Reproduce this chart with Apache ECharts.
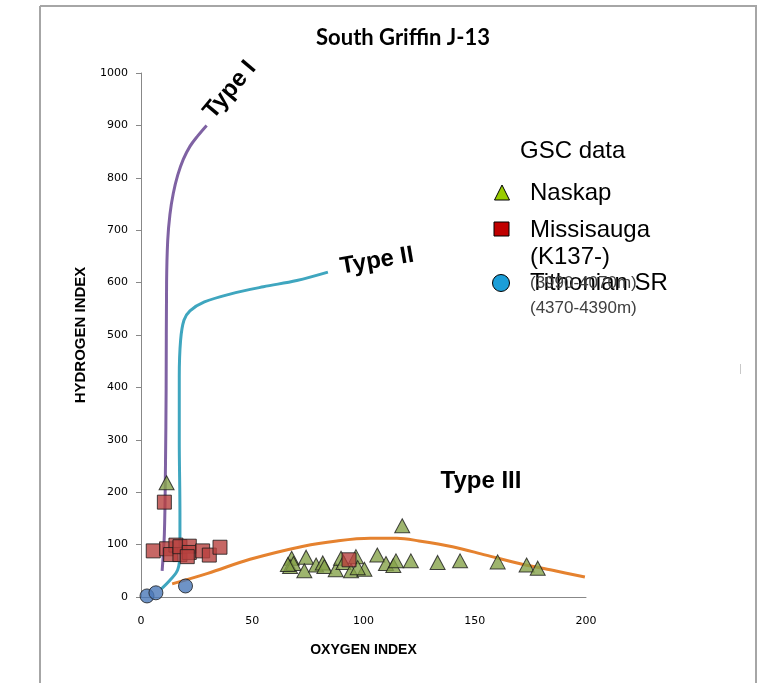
<!DOCTYPE html>
<html>
<head>
<meta charset="utf-8">
<script src="https://cdn.jsdelivr.net/npm/echarts@6/dist/echarts.min.js"></script>
<style>
  html, body { margin: 0; padding: 0; background: #fff; }
  #chart { width: 782px; height: 683px; }
</style>
</head>
<body>
<div id="chart"></div>
<script>
// Axis ticks
const xTicks = [0, 50, 100, 150, 200];
const yTicks = [0, 100, 200, 300, 400, 500, 600, 700, 800, 900, 1000];

// Kerogen type reference curves [oxygen index, hydrogen index]
const typeI = [[9.5, 50], [10.5, 120], [11, 250], [11.3, 400], [11.5, 600], [12, 680], [13, 730],
  [14.5, 770], [16.5, 805], [19, 835], [22, 860], [25.5, 880], [29.5, 900]];
const typeII = [[9, 15], [13, 32], [16.5, 52], [17.5, 85], [17.5, 160], [17.2, 300], [17.2, 420],
  [17.8, 490], [19.3, 528], [22, 546], [28.5, 563], [40, 578], [55, 592], [70, 604], [84, 620]];
const typeIII = [[14, 25], [30, 45], [49, 72], [73, 97], [88, 107], [103, 112], [115, 112],
  [125, 107], [140, 96], [155, 80], [170, 64], [185, 51], [199.5, 38]];

// GSC samples [oxygen index, hydrogen index]
const naskap = [[11.5, 218], [117.4, 136], [67.7, 74], [67, 58], [68.5, 64], [66, 62], [74.2, 76],
  [73.4, 50], [78.7, 61], [81.7, 65], [82.4, 58], [87.5, 52], [89.9, 74], [91, 66], [96.6, 77],
  [94.4, 50], [100.4, 53], [97.4, 56], [106.2, 80], [110.1, 64], [113.4, 60], [114.6, 69],
  [121.3, 69], [133.3, 66], [143.4, 69], [160.3, 67], [173.3, 61], [178.3, 55]];
const missisauga = [[10.5, 181], [5.5, 88], [11.5, 92], [15.7, 99], [13.3, 81], [17.5, 81],
  [17.5, 96], [21.7, 97], [21.7, 85], [20.8, 77], [27.7, 88], [30.7, 80], [35.5, 95], [93.5, 71]];
const tithonian = [[2.7, 2], [6.7, 8], [20, 21]];

// Legend entries
const legendTitle = 'GSC data';
const legendNames = ['Naskap', 'Missisauga', '(K137-)', 'Tithonian SR', '(3990-4070m)', '(4370-4390m)'];

const chart = echarts.init(document.getElementById('chart'), null, { renderer: 'canvas' });

const curve = (name, data, color) => ({
  name, type: 'line', data, smooth: 0.35, showSymbol: false, z: 2,
  lineStyle: { color, width: 3 }, silent: true
});
const markerStyle = (color) => ({ color, borderColor: '#1a1a1a', borderWidth: 1 });

const frameColor = '#a6a6a6';
const labelFont = 'bold 24px "Liberation Sans", Arial, sans-serif';
const legendFont = '24px "Liberation Sans", Arial, sans-serif';
const subFont = '17px "Liberation Sans", Arial, sans-serif';

chart.setOption({
  animation: false,
  backgroundColor: '#ffffff',
  title: {
    text: 'South Griffin J-13', left: 398, top: 22, textAlign: 'center',
    textStyle: { fontFamily: 'Lato, "Open Sans", sans-serif', fontWeight: 'bold', fontSize: 22, color: '#000' }
  },
  grid: { left: 141, top: 73, right: 196, bottom: 86 },
  xAxis: {
    type: 'value', min: xTicks[0], max: xTicks[xTicks.length - 1], interval: 50,
    name: 'OXYGEN INDEX', nameLocation: 'middle', nameGap: 46,
    nameTextStyle: { fontFamily: '"Liberation Sans", Arial', fontWeight: 'bold', fontSize: 14, color: '#000' },
    axisLine: { lineStyle: { color: '#888888', width: 1 } },
    axisTick: { show: false },
    axisLabel: { fontFamily: '"DejaVu Sans", Verdana', fontSize: 11, color: '#000', margin: 19,
      formatter: (v) => String(v) },
    splitLine: { show: false }
  },
  yAxis: {
    type: 'value', min: yTicks[0], max: yTicks[yTicks.length - 1], interval: 100,
    name: 'HYDROGEN INDEX', nameLocation: 'middle', nameGap: 53, nameRotate: 90,
    nameTextStyle: { fontFamily: '"Liberation Sans", Arial', fontWeight: 'bold', fontSize: 15, color: '#000' },
    axisLine: { show: true, lineStyle: { color: '#888888', width: 1 } },
    axisTick: { show: true, length: 5, lineStyle: { color: '#888888' } },
    axisLabel: { fontFamily: '"DejaVu Sans", Verdana', fontSize: 11, color: '#000', margin: 13,
      formatter: (v) => String(v) },
    splitLine: { show: false }
  },
  series: [
    curve('Type I', typeI, '#7f62a3'),
    curve('Type II', typeII, '#3fa6bf'),
    curve('Type III', typeIII, '#e5822f'),
    { name: 'Naskap', type: 'scatter', data: naskap, symbol: 'triangle', symbolSize: [15, 14], z: 5,
      itemStyle: markerStyle('#86a24a') },
    { name: 'Missisauga', type: 'scatter', data: missisauga, symbol: 'rect', symbolSize: 14, z: 6,
      itemStyle: markerStyle('#b8413e') },
    { name: 'Tithonian SR', type: 'scatter', data: tithonian, symbol: 'circle', symbolSize: 14, z: 6,
      itemStyle: markerStyle('#4a78b8') }
  ],
  graphic: [
    // outer frame
    { type: 'line', shape: { x1: 40, y1: 6, x2: 40, y2: 683 }, style: { stroke: frameColor, lineWidth: 2 } },
    { type: 'line', shape: { x1: 40, y1: 6, x2: 757, y2: 6 }, style: { stroke: frameColor, lineWidth: 2 } },
    { type: 'line', shape: { x1: 756, y1: 6, x2: 756, y2: 683 }, style: { stroke: frameColor, lineWidth: 2 } },
    { type: 'line', shape: { x1: 740.5, y1: 364, x2: 740.5, y2: 374 }, style: { stroke: '#c8c8c8', lineWidth: 1 } },
    // curve labels
    { type: 'text', x: 230, y: 90, rotation: 0.87, z: 10,
      style: { text: 'Type I', font: labelFont, fill: '#000', textAlign: 'center', textVerticalAlign: 'middle' } },
    { type: 'text', x: 377, y: 261, rotation: 0.17, z: 10,
      style: { text: 'Type II', font: labelFont, fill: '#000', textAlign: 'center', textVerticalAlign: 'middle' } },
    { type: 'text', x: 481, y: 481, z: 10,
      style: { text: 'Type III', font: labelFont, fill: '#000', textAlign: 'center', textVerticalAlign: 'middle' } },
    // legend
    { type: 'text', x: 520, y: 151, z: 10,
      style: { text: legendTitle, font: legendFont, fill: '#000', textVerticalAlign: 'middle' } },
    { type: 'polygon', shape: { points: [[502, 185], [509.5, 200], [494.5, 200]] }, z: 10,
      style: { fill: '#99cc00', stroke: '#000', lineWidth: 1 } },
    { type: 'text', x: 530, y: 193, z: 10,
      style: { text: legendNames[0], font: legendFont, fill: '#000', textVerticalAlign: 'middle' } },
    { type: 'rect', shape: { x: 494, y: 222, width: 15, height: 14 }, z: 10,
      style: { fill: '#c00000', stroke: '#000', lineWidth: 1 } },
    { type: 'text', x: 530, y: 230, z: 10,
      style: { text: legendNames[1], font: legendFont, fill: '#000', textVerticalAlign: 'middle' } },
    { type: 'text', x: 530, y: 257, z: 10,
      style: { text: legendNames[2], font: legendFont, fill: '#000', textVerticalAlign: 'middle' } },
    { type: 'circle', shape: { cx: 501, cy: 283, r: 8.5 }, z: 10,
      style: { fill: '#1b9ed8', stroke: '#000', lineWidth: 1 } },
    { type: 'text', x: 530, y: 283, z: 10,
      style: { text: legendNames[3], font: legendFont, fill: '#000', textVerticalAlign: 'middle' } },
    { type: 'text', x: 530, y: 283, z: 11,
      style: { text: legendNames[4], font: subFont, fill: '#404040', textVerticalAlign: 'middle' } },
    { type: 'text', x: 530, y: 308, z: 10,
      style: { text: legendNames[5], font: subFont, fill: '#404040', textVerticalAlign: 'middle' } }
  ]
});
</script>
</body>
</html>
